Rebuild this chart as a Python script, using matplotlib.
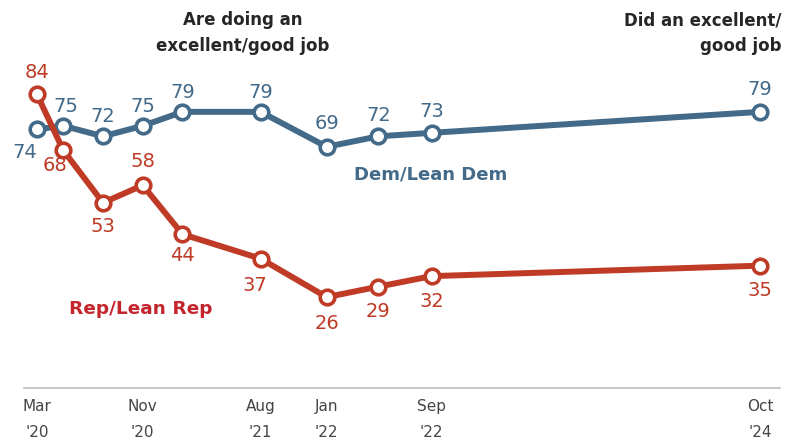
import matplotlib
matplotlib.use("Agg")
import matplotlib.pyplot as plt
import pandas as pd

# Survey waves
dates = ["2020-03", "2020-05", "2020-08", "2020-11", "2021-02",
         "2021-08", "2022-01", "2022-05", "2022-09", "2024-10"]
dem = [74, 75, 72, 75, 79, 79, 69, 72, 73, 79]
rep = [84, 68, 53, 58, 44, 37, 26, 29, 32, 35]

tick_dates = ["2020-03", "2020-11", "2021-08", "2022-01", "2022-09", "2024-10"]
tick_labels = ["Mar\n'20", "Nov\n'20", "Aug\n'21", "Jan\n'22", "Sep\n'22", "Oct\n'24"]

# label offsets (dx, dy) in points from each marker
dem_pos = [(-9, -17), (2, 14), (0, 14), (0, 14), (0, 14), (0, 14), (0, 17), (0, 15), (0, 15), (0, 16)]
rep_pos = [(0, 16), (-6, -11), (0, -17), (0, 17), (0, -15), (-4, -19), (0, -19), (0, -18), (0, -18), (0, -18)]

DEM_COLOR = "#436A89"
REP_COLOR = "#BF3B26"
REP_NAME_COLOR = "#C4262E"
TEXT_DARK = "#262626"

x = pd.to_datetime(dates)
xt = pd.to_datetime(tick_dates)

fig = plt.figure(figsize=(7.91, 4.44), dpi=100)
ax = fig.add_axes([24 / 791, 56 / 444, 756 / 791, 388 / 444])

for vals, color in ((dem, DEM_COLOR), (rep, REP_COLOR)):
    ax.plot(x, vals, color=color, lw=4.3, marker="o", ms=10.5,
            mfc="white", mec=color, mew=2.6, zorder=3, solid_capstyle="round")

for xi, v, (dx, dy) in zip(x, dem, dem_pos):
    ax.annotate(str(v), (xi, v), xytext=(dx, dy), textcoords="offset points",
                ha="center", va="center", fontsize=14, color=DEM_COLOR)
for xi, v, (dx, dy) in zip(x, rep, rep_pos):
    ax.annotate(str(v), (xi, v), xytext=(dx, dy), textcoords="offset points",
                ha="center", va="center", fontsize=14, color=REP_COLOR)

ax.set_ylim(0, 111)
ax.set_xlim(pd.Timestamp("2020-01-31"), pd.Timestamp("2024-11-16"))

ax.set_xticks(xt)
ax.set_xticklabels(tick_labels)
for lbl in ax.get_xticklabels():
    lbl.set_linespacing(1.9)
    lbl.set_fontsize(11)
    lbl.set_color("#444444")
ax.tick_params(axis="x", length=0, pad=8)
ax.set_yticks([])
for side in ("top", "left", "right"):
    ax.spines[side].set_visible(False)
ax.spines["bottom"].set_color("#BBBBBB")
ax.spines["bottom"].set_linewidth(1.2)

# series names
ax.text(pd.Timestamp("2022-03-05"), 61, "Dem/Lean Dem", color=DEM_COLOR,
        fontsize=13, fontweight="bold", ha="left", va="center")
ax.text(pd.Timestamp("2020-05-15"), 22.5, "Rep/Lean Rep", color=REP_NAME_COLOR,
        fontsize=13.3, fontweight="bold", ha="left", va="center")

# column headers
fig.text(243 / 791, 1 - 33 / 444, "Are doing an\nexcellent/good job", color=TEXT_DARK,
         fontsize=12, fontweight="bold", ha="center", va="center", linespacing=1.55)
fig.text(781 / 791, 1 - 33 / 444, "Did an excellent/\ngood job", color=TEXT_DARK,
         fontsize=12, fontweight="bold", ha="right", va="center", linespacing=1.55)

fig.savefig("out.png", dpi=100)
